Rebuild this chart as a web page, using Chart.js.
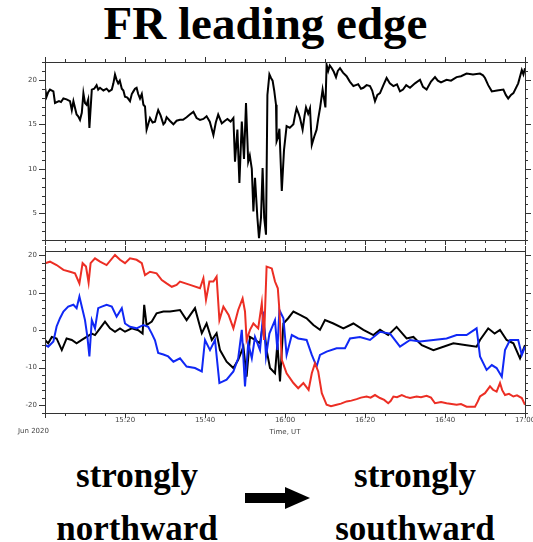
<!DOCTYPE html>
<html>
<head>
<meta charset="utf-8">
<script src="https://cdn.jsdelivr.net/npm/chart.js@4.4.0/dist/chart.umd.min.js"></script>
<style>
body { margin: 0; background: #fff; }
#wrap { position: relative; width: 533px; height: 542px; overflow: hidden; font-family: "Liberation Serif", serif; }
.txt { position: absolute; font-weight: bold; color: #000; white-space: nowrap; text-align: center; }
canvas { position: absolute; left: 0; }
</style>
</head>
<body>
<div id="wrap">
  <div class="txt" style="left:0;width:531px;top:-3px;font-size:47px;line-height:52px">FR leading edge</div>
  <canvas id="topChart" width="533" height="195" style="top:50px"></canvas>
  <canvas id="bottomChart" width="533" height="197" style="top:245px"></canvas>
  <div class="txt" style="left:37px;width:200px;top:449px;font-size:35px;line-height:53px">strongly<br>northward</div>
  <div class="txt" style="left:315px;width:200px;top:449px;font-size:35px;line-height:53px">strongly<br>southward</div>
  <svg style="position:absolute;left:240px;top:480px" width="80" height="40">
    <rect x="5" y="13" width="46" height="10" fill="#000"></rect>
    <polygon points="45,7 70,18 45,29" fill="#000"></polygon>
  </svg>
</div>
<script>
// minutes after 15:00 UT
const xMajorTicks = [0, 20, 40, 60, 80, 100, 120];
const xTickLabels = ['', '15:20', '15:40', '16:00', '16:20', '16:40', '17:00'];
const topYTicks = [5, 10, 15, 20];
const bottomYTicks = [-20, -10, 0, 10, 20];

// |B| (top panel)
const btTime = [0, 0.4, 0.8, 1.25, 2.1, 2.5, 3.5, 4.0, 4.6, 5.4, 6.25, 6.7, 7.1, 7.9, 8.3, 8.75, 9.2, 9.6, 10.0, 10.4, 10.8, 11.1, 11.7, 12.3, 12.9, 13.3, 13.75, 14.6, 15.4, 16.0, 16.7, 17.1, 17.5, 17.9, 18.3, 18.7, 19.2, 19.6, 20, 20.6, 21.25, 21.7, 22.1, 22.5, 22.9, 23.3, 23.75, 24.2, 24.6, 25.0, 25.4, 25.8, 26.25, 26.9, 27.5, 27.9, 28.3, 28.9, 29.6, 30.0, 30.4, 31.2, 32.1, 32.9, 33.75,
  34.5, 35.4, 36.2, 37.1, 37.9, 38.75, 39.6, 40.4, 41.2, 42.1, 42.7, 43.3, 44.2, 45, 45.6, 46.4, 47.1, 47.5, 48.1, 48.6, 49.2, 49.75, 50.25, 50.8, 51.2, 51.7, 52.1, 52.5, 53.1, 53.5, 54, 54.4, 54.8, 55.25, 55.6, 56.1, 56.5, 56.9, 57.3, 57.75, 57.9, 58.3, 58.6, 59.2, 59.75, 60.4, 61.2, 62.1, 62.5, 62.9, 63.4, 63.75, 64.4, 64.9, 65.25, 65.8, 66.25, 66.7, 67.3, 67.9, 68.3, 68.75, 69.4, 70.1,
  70.4, 70.8, 71.2, 71.7, 72.2, 72.75, 73.2, 73.75, 74.5, 75.4, 76.2, 77.1, 77.7, 78.3, 79, 79.6, 80.4, 81.25, 81.8, 82.5, 83.1, 83.75, 84.6, 85.4, 86.2, 87.1, 88, 88.75, 89.5, 90.3, 91.25, 92.5, 93.75, 94.5, 95.4, 96.5, 97.5, 98.2, 99, 100.4, 101.5, 102.9, 104, 105.4, 107, 108.75, 109.5, 110, 110.8, 111.7, 113, 114.6, 115.2, 115.8, 116.5, 117.1, 118.3, 119.2, 119.6, 120];
const btValue = [19.1, 18.1, 18.6, 18.9, 18.7, 17.4, 17.6, 17.5, 17.9, 17.8, 17.6, 16.6, 17.6, 16.1, 15.9, 15.5, 16.3, 18.5, 17.4, 17.2, 17.8, 14.6, 18.9, 19.0, 19.4, 18.9, 19.1, 18.8, 19.0, 18.7, 18.9, 19.6, 20.6, 20.0, 19.6, 19.9, 19.0, 18.8, 18.1, 18.0, 17.6, 18.4, 18.7, 19.0, 19.1, 18.4, 17.9, 18.4, 17.2, 17.0, 14.4, 15.0, 15.7, 15.2, 15.3, 16.0, 16.6, 16.0, 15.0, 15.2, 15.8, 15.4, 15.0, 15.4, 15.5,
  15.5, 15.8, 16.1, 16.4, 15.7, 15.5, 15.6, 15.9, 15.3, 13.8, 15.2, 16.1, 15.1, 15.4, 15.6, 15.3, 15.7, 10.8, 14.4, 8.4, 15.3, 11.1, 17.4, 10.8, 11.5, 10.0, 5.2, 9.0, 4.5, 2.2, 4.5, 10.1, 4.5, 2.6, 18.3, 20.6, 20.2, 19.9, 18.8, 17.2, 13.1, 13.6, 14.5, 7.5, 12.1, 14.8, 14.6, 15.0, 16.0, 16.8, 16.2, 15.7, 14.4, 16.0, 16.9, 16.2, 16.8, 12.7, 13.6, 14.4, 15.6, 16.8, 18.9, 16.9,
  21.7, 21.0, 21.6, 21.3, 20.9, 20.3, 21.0, 21.3, 20.8, 20.4, 19.8, 19.3, 19.4, 19.5, 19.0, 19.1, 19.4, 19.3, 18.8, 17.6, 18.3, 18.5, 19.4, 20.2, 19.6, 19.3, 19.5, 18.7, 18.9, 19.4, 19.1, 19.6, 20.0, 19.2, 18.9, 19.8, 20.3, 19.9, 19.7, 20.0, 19.9, 20.3, 20.4, 20.7, 20.6, 20.7, 20.5, 20.2, 19.4, 18.7, 18.8, 18.9, 18.3, 17.9, 18.3, 18.5, 19.6, 21.1, 20.6, 21.3];

// Bx (black)
const bxTime = [0, 0.8, 1.7, 2.9, 4.2, 5.4, 6.7, 7.9, 9.2, 10.4, 11.7, 12.5, 13.75, 15, 16.25, 17.5, 18.75, 20, 21.7, 23.3, 24.4, 24.8, 25.4, 26.7, 27.9, 29.6, 31.25, 33.75,
  35.4, 37.5, 39.2, 40.4, 41.7, 42.9, 43.75, 45.4, 47.1, 48.3, 49.6, 50.4, 51.25, 52.5, 53.75, 54.6, 55.4, 56.25, 57.5, 58.1, 58.75, 59.6, 60.8, 62.1, 63.75, 65.4, 67.1, 68.75, 70, 72.1, 74.6, 77.1, 79.6, 82.1, 83.75, 85.8, 87.9, 90.4, 92.1, 94.2, 97.1, 99.6, 102.1, 105.4, 107.9, 108.75, 110.8, 112.4, 113.75, 115.4, 117.1, 118.75, 120];
const bxValue = [-2.6, -3.5, -1.8, -2.2, -5.3, -2.2, -2.6, -3.5, -2.6, -1.8, -0.9, -1.3, 0.5, 2.3, 0.5, -0.4, 0.5, -0.4, 0.5, 0.0, -0.9, 6.8, 1.4, 2.3, 4.5, 5.0, 5.0, 5.4,
  2.7, 5.9, -0.8, 1.8, -2.6, -0.8, -5.3, -8.4, -10.1, -7.9, -4.4, -12.4, -1.8, -2.6, -3.5, 2.3, -5.3, -10.1, -11.5, -3.5, -13.7, 1.8, 3.2, 5.0, 4.1, 3.2, 1.4, 0.1, 2.7, 1.8, 0.5, 1.8, 0.1, -1.3, 0.1, -1.3, 0.9, -2.2, -1.8, -4.0, -5.3, -4.4, -3.5, -4.0, -4.4, -2.6, 0.5, -0.9, 0.1, -2.6, -3.5, -7.5, -4.0];

// By (blue)
const byTime = [0, 0.8, 2.1, 2.9, 3.75, 4.6, 5.8, 7.1, 7.9, 8.6, 9.4, 10, 10.6, 11.1, 11.7, 12.5, 13.3, 14.2, 15.4, 16.7, 17.9, 19.2, 20, 21.25, 22.9, 24.6, 25.8, 26.7, 27.5, 28.3, 29.6, 30.8, 32.1, 33.75,
  35.4, 37.5, 39.2, 40, 41.25, 42.5, 43.6, 45.4, 47.1, 48.3, 49.2, 50, 50.8, 51.7, 52.5, 53.75, 54.6, 55.25, 56.1, 57.5, 58.1, 58.6, 59.6, 60.4, 61.7, 63.3, 65.4, 66.7, 67.9, 68.75, 70.4, 72.9, 75, 76.25, 78.75, 81.25, 83.75, 86.25, 88.75, 91.25, 93.75, 97.1, 100.4, 102.9, 105.4, 107.9, 108.75, 110.4, 111.7, 112.9, 114.2, 115, 116.25, 118.3, 119.2, 120];
const byValue = [-3.9, -4.4, -3.0, 1.0, 3.2, 5.0, 6.3, 6.8, 5.9, 9.0, 5.4, 2.7, -1.8, -7.0, 2.7, 0.5, 5.9, 6.3, 6.8, 6.3, 3.6, 5.9, 1.8, 0.9, 0.5, 1.4, 0.9, -0.9, -2.7, -6.1, -6.5, -7.0, -8.4, -7.5,
  -9.7, -10.1, -11.0, -2.6, -5.3, -2.6, -14.1, -13.2, -11.0, -7.5, 0.1, -15.0, -3.5, -7.5, -1.8, -5.3, 5.0, -7.0, -0.9, 2.7, -5.3, 5.4, 3.2, -6.6, -1.3, -2.2, -2.6, -6.6, -9.7, -6.6, -5.7, -4.8, -4.8, -2.2, -1.8, -2.6, -0.4, -0.9, -4.4, -2.6, -3.0, -2.6, -2.2, -1.3, -1.3, 0.5, -7.0, -10.6, -9.3, -10.1, -12.4, -5.3, -2.6, -2.6, -6.6, -4.4];

// Bz (red)
const bzTime = [0, 1.25, 2.9, 4.6, 6.25, 7.5, 8.6, 9.4, 10.25, 10.9, 11.4, 12.5, 13.75, 15.4, 17.5, 18.75, 20, 21.25, 22.9, 24.2, 25, 26.25, 27.9, 29.2, 30.4, 31.7, 32.9,
  33.75, 36.25, 38.75, 39.6, 40.25, 41.1, 42.1, 42.9, 43.6, 44.6, 45.9, 47.1, 48.3, 49.4, 50, 50.4, 51.25, 52.1, 53.3, 54.2, 54.75, 55.4, 56.7, 57.5, 58.2, 58.6, 59.2, 60.4, 62.1, 63.3, 64.6, 65.9, 66.7, 67.5, 68.3, 69.2,
  70.4, 71.5, 72.9, 74, 75.4, 76.6, 77.9, 79, 80.4, 81.4, 82.5, 83.75, 84.8, 85.8, 86.4, 87.1, 88, 89.2, 90.2, 91.25, 92.9, 94, 95.4, 96.5, 97.5, 99, 100.4, 102.9, 104, 105.4, 107.5, 108.2, 108.75, 110, 111.25, 112, 112.9, 113.75, 114.3, 115, 116, 117.1, 118, 119.2, 120];
const bzValue = [17.9, 18.3, 17.4, 16.1, 15.6, 15.2, 12.5, 17.9, 17.0, 12.7, 17.9, 19.2, 18.3, 17.4, 20.1, 18.8, 17.9, 19.2, 18.8, 17.9, 14.7, 15.6, 15.2, 13.4, 12.5, 11.6, 12.1,
  13.0, 12.1, 11.2, 13.9, 8.1, 13.0, 13.0, 14.3, 2.7, 6.3, 4.1, 0.5, 5.4, 8.5, 5.0, -2.6, 0.1, 1.8, 0.5, 7.2, -2.6, 17.0, 16.5, 13.0, 11.2, 5.4, -7.9, -11.5, -14.1, -15.5, -14.1, -15.9, -11.5, -8.8, -11.0, -16.8,
  -19.9, -20.3, -19.9, -19.6, -19.0, -18.8, -18.4, -18.0, -17.7, -18.0, -17.3, -18.1, -18.6, -19.5, -18.9, -17.7, -17.9, -17.3, -17.8, -18.1, -17.7, -17.9, -17.5, -18.0, -19.5, -19.2, -19.5, -19.9, -19.7, -20.4, -20.4, -19.0, -17.7, -16.8, -15.0, -15.9, -16.4, -14.1, -16.0, -17.3, -17.0, -17.7, -17.4, -18.1, -19.9];

const toPoints = (t, v) => t.map((x, i) => ({ x: x, y: v[i] }));

const tickFont = { family: 'DejaVu Sans', size: 7 };
const tickColor = '#444';

// frame plus outward major/minor tick marks on all four sides
const frameTicks = {
  id: 'frameTicks',
  afterDraw(chart, args, opts) {
    const ctx = chart.ctx;
    const a = chart.chartArea;
    const xs = chart.scales.x, ys = chart.scales.y;
    ctx.save();
    ctx.strokeStyle = '#333';
    ctx.lineWidth = 1;
    ctx.strokeRect(Math.round(a.left) + 0.5, Math.round(a.top) + 0.5, Math.round(a.right - a.left), Math.round(a.bottom - a.top));
    ctx.beginPath();
    for (let v = xs.min; v <= xs.max + 0.001; v += opts.xMinor) {
      const len = xMajorTicks.includes(v) ? 5 : 3;
      const px = Math.round(xs.getPixelForValue(v)) + 0.5;
      ctx.moveTo(px, a.top); ctx.lineTo(px, a.top - len);
      ctx.moveTo(px, a.bottom); ctx.lineTo(px, a.bottom + len);
    }
    const start = Math.ceil(ys.min / opts.yMinor) * opts.yMinor;
    for (let v = start; v <= ys.max + 0.001; v += opts.yMinor) {
      const len = opts.yMajor.includes(v) ? 6 : 3;
      const py = Math.round(ys.getPixelForValue(v)) + 0.5;
      ctx.moveTo(a.left, py); ctx.lineTo(a.left - len, py);
      ctx.moveTo(a.right, py); ctx.lineTo(a.right + len, py);
    }
    ctx.stroke();
    if (opts.dateLabel) {
      ctx.fillStyle = tickColor;
      ctx.font = '7px "DejaVu Sans"';
      ctx.textBaseline = 'middle';
      ctx.fillText(opts.dateLabel, 18, chart.height - 11);
    }
    ctx.restore();
  }
};

function xScale(showLabels) {
  return {
    type: 'linear', min: 0, max: 120,
    grid: { display: false, drawTicks: false }, border: { display: false },
    afterBuildTicks: s => { s.ticks = xMajorTicks.map(v => ({ value: v })); },
    afterFit: s => { s.height = showLabels ? 29 : 0; s.paddingLeft = 0; s.paddingRight = 0; },
    ticks: {
      display: showLabels, font: tickFont, color: tickColor, padding: 3, maxRotation: 0, autoSkip: false,
      callback: (v, i) => xTickLabels[i]
    },
    title: { display: showLabels, text: 'Time, UT', font: tickFont, color: tickColor, padding: { top: 0, bottom: 6 } }
  };
}

function yScale(min, max, ticks) {
  return {
    min: min, max: max,
    grid: { display: false, drawTicks: false }, border: { display: false },
    afterBuildTicks: s => { s.ticks = ticks.map(v => ({ value: v })); },
    afterFit: s => { s.width = 45; s.paddingTop = 0; s.paddingBottom = 0; },
    ticks: { font: tickFont, color: tickColor, padding: 8 }
  };
}

const line = (data, color) => ({
  data: data, borderColor: color, borderWidth: 2, pointRadius: 0, tension: 0, fill: false
});

new Chart(document.getElementById('topChart'), {
  type: 'line',
  data: { datasets: [line(toPoints(btTime, btValue), '#000')] },
  options: {
    responsive: false, animation: false,
    layout: { padding: { top: 12, right: 8, bottom: 5, left: 0 } },
    plugins: { legend: { display: false }, tooltip: { enabled: false },
      frameTicks: { xMinor: 5, yMinor: 1, yMajor: topYTicks } },
    scales: { x: xScale(false), y: yScale(2, 22, topYTicks) }
  },
  plugins: [frameTicks]
});

new Chart(document.getElementById('bottomChart'), {
  type: 'line',
  data: { datasets: [
    line(toPoints(bzTime, bzValue), 'rgb(236,46,36)'),
    line(toPoints(byTime, byValue), 'rgb(16,40,245)'),
    line(toPoints(bxTime, bxValue), '#000')
  ] },
  options: {
    responsive: false, animation: false,
    layout: { padding: { top: 6, right: 8, bottom: 0, left: 0 } },
    plugins: { legend: { display: false }, tooltip: { enabled: false },
      frameTicks: { xMinor: 5, yMinor: 2, yMajor: bottomYTicks, dateLabel: 'Jun 2020' } },
    scales: { x: xScale(true), y: yScale(-22.1, 21.15, bottomYTicks) }
  },
  plugins: [frameTicks]
});
</script>
</body>
</html>
